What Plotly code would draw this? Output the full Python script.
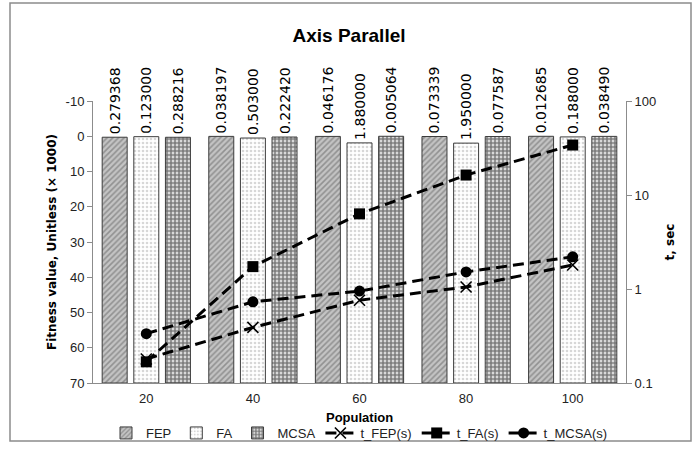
import plotly.graph_objects as go

# Population sizes (category axis)
population = ["20", "40", "60", "80", "100"]

# Fitness values (x 1000), left axis
fep = [0.279368, 0.038197, 0.046176, 0.073339, 0.012685]
fa = [0.123000, 0.503000, 1.880000, 1.950000, 0.188000]
mcsa = [0.288216, 0.222420, 0.005064, 0.077587, 0.038490]

# Run times in seconds, right (log) axis
t_fep = [0.18, 0.39, 0.76, 1.05, 1.8]
t_fa = [0.168, 1.73, 6.3, 16.3, 34.0]
t_mcsa = [0.335, 0.73, 0.95, 1.52, 2.2]

# Tick labels
left_ticks = [-10, 0, 10, 20, 30, 40, 50, 60, 70]
right_ticks = [0.1, 1, 10, 100]

Y_MIN, Y_MAX = -10, 70   # left axis is drawn reversed, bars hang from 70

NARROW = "Liberation Sans, Arial, sans-serif"
LABEL_FONT = dict(family="DejaVu Sans, Verdana, sans-serif", size=14, color="black")

bar_styles = {
    "FEP": dict(shape="/", bgcolor="#c4c4c4", fgcolor="#5e5e5e", size=4, solidity=0.4),
    "FA": dict(shape=".", bgcolor="#ffffff", fgcolor="#b0b0b0", size=4, solidity=0.35),
    "MCSA": dict(shape=".", bgcolor="#ffffff", fgcolor="#000000", size=4, solidity=0.75),
}

fig = go.Figure()

for name, vals in (("FEP", fep), ("FA", fa), ("MCSA", mcsa)):
    fig.add_trace(go.Bar(
        name=name,
        x=population,
        base=[Y_MAX] * len(vals),
        y=[v - Y_MAX for v in vals],
        text=[f"{v:.6f}" for v in vals],
        textposition="outside",
        textangle=-90,
        textfont=LABEL_FONT,
        constraintext="none",
        cliponaxis=False,
        marker=dict(
            color=bar_styles[name]["bgcolor"],
            pattern=bar_styles[name],
            line=dict(color="#3c3c3c", width=1),
        ),
        yaxis="y",
    ))

line_specs = (
    ("t_FEP(s)", t_fep, dict(symbol="x-thin-open", size=11, line=dict(width=1.6, color="black"))),
    ("t_FA(s)", t_fa, dict(symbol="square", size=11, color="black")),
    ("t_MCSA(s)", t_mcsa, dict(symbol="circle", size=11, color="black")),
)
for name, vals, mk in line_specs:
    fig.add_trace(go.Scatter(
        name=name,
        x=population,
        y=vals,
        mode="lines+markers",
        line=dict(color="black", width=3, dash="11px,6px"),
        marker=mk,
        yaxis="y2",
    ))

axis_font = dict(family=NARROW, size=13, color="#222222")

fig.update_layout(
    width=698,
    height=452,
    margin=dict(l=93, r=72, t=101, b=69, autoexpand=False),
    paper_bgcolor="white",
    plot_bgcolor="white",
    barmode="group",
    bargap=0.11,
    bargroupgap=0.21,
    font=dict(family=NARROW, size=13, color="#222222"),
    title=dict(
        text="<b>Axis Parallel</b>",
        x=0.5, xanchor="center",
        y=1 - 35 / 452, yref="container", yanchor="middle",
        font=dict(family=NARROW, size=19, color="black"),
    ),
    xaxis=dict(
        type="category",
        showline=True, linecolor="#8c8c8c", linewidth=1,
        ticks="", tickfont=axis_font, ticklabelstandoff=3,
        showgrid=False,
    ),
    yaxis=dict(
        range=[Y_MAX, Y_MIN],
        tickvals=left_ticks, ticktext=[str(v) for v in left_ticks],
        showline=True, linecolor="#8c8c8c", linewidth=1,
        ticks="outside", ticklen=5, tickcolor="#8c8c8c",
        tickfont=axis_font, showgrid=False, zeroline=False,
        title=dict(text="<b>Fitness value, Unitless (× 1000)</b>", standoff=6,
                   font=dict(family="DejaVu Sans, Verdana, sans-serif", size=12, color="black")),
    ),
    yaxis2=dict(
        type="log", range=[-1, 2], overlaying="y", side="right",
        tickvals=right_ticks, ticktext=[f"{v:g}" for v in right_ticks],
        showline=True, linecolor="#8c8c8c", linewidth=1,
        ticks="outside", ticklen=5, tickcolor="#8c8c8c",
        tickfont=axis_font, showgrid=False, zeroline=False,
        title=dict(text="<b>t, sec</b>", standoff=10,
                   font=dict(family="DejaVu Sans, Verdana, sans-serif", size=12, color="black")),
    ),
    legend=dict(
        orientation="h", x=0.5, xanchor="center",
        yref="container", y=1 - 433 / 452, yanchor="middle",
        font=dict(family=NARROW, size=13, color="#222222"),
        itemwidth=30, tracegroupgap=0,
        bgcolor="rgba(0,0,0,0)",
    ),
    showlegend=True,
)

# x-axis title placed just under the tick labels
fig.add_annotation(
    text="<b>Population</b>", xref="paper", yref="paper",
    x=0.5, y=-0.122, yanchor="middle", showarrow=False,
    font=dict(family=NARROW, size=13, color="black"),
)

# Outer frame around the whole chart
fig.add_shape(
    type="rect", xref="paper", yref="paper",
    x0=(10 - 93) / 533, x1=(691 - 93) / 533,
    y0=(383 - 441) / 282, y1=(383 - 3) / 282,
    line=dict(color="#8c8c8c", width=1.5), fillcolor="rgba(0,0,0,0)",
    layer="below",
)

fig.write_html("out.html")
